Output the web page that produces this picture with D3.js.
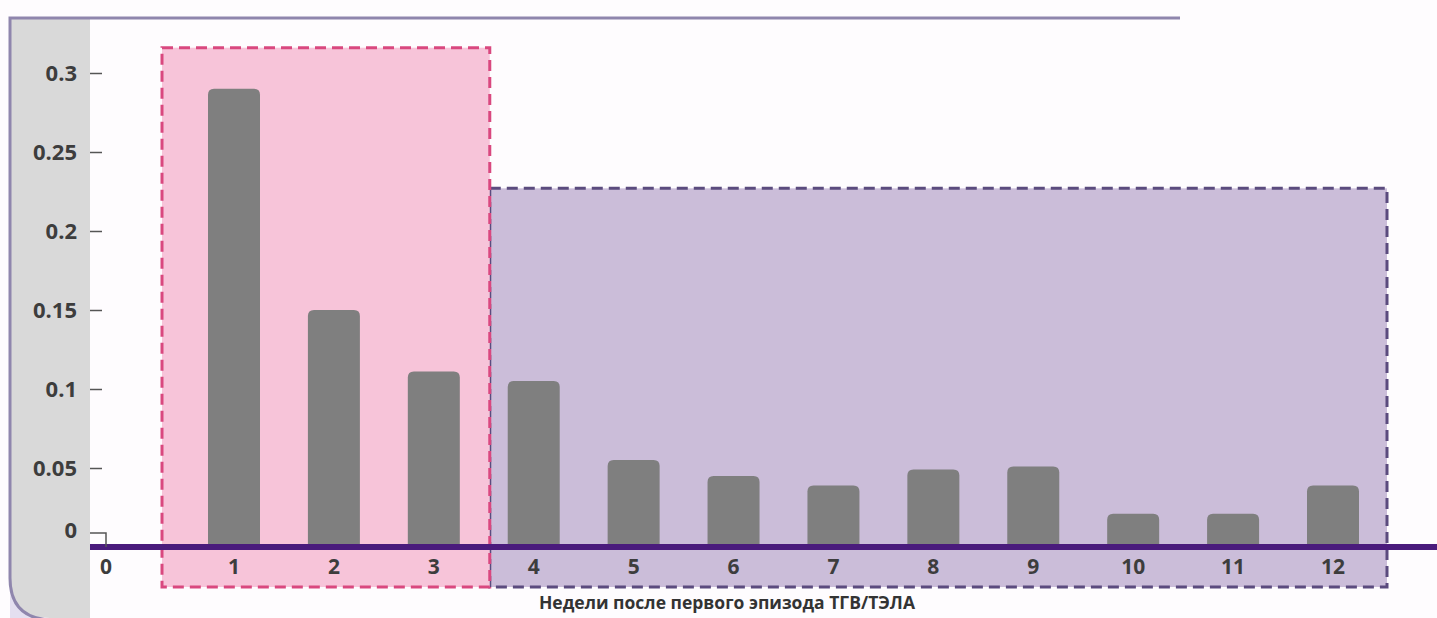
<!DOCTYPE html>
<html>
<head>
<meta charset="utf-8">
<script src="https://cdn.jsdelivr.net/npm/d3@7"></script>
<style>
  html, body { margin: 0; padding: 0; background: #ffffff; }
  svg { display: block; }
</style>
</head>
<body>
<svg id="chart" width="1437" height="618"></svg>
<script>
// Weekly values after the first VTE episode
const weeks = [1, 2, 3, 4, 5, 6, 7, 8, 9, 10, 11, 12];
const values = [0.29, 0.15, 0.111, 0.105, 0.055, 0.045, 0.039, 0.049, 0.051, 0.021, 0.021, 0.039];
const yTicks = [0, 0.05, 0.1, 0.15, 0.2, 0.25, 0.3];
const yTickLabels = ["0", "0.05", "0.1", "0.15", "0.2", "0.25", "0.3"];
const xTicks = [0, 1, 2, 3, 4, 5, 6, 7, 8, 9, 10, 11, 12];
const phaseStart = [1, 4];
const phaseEnd = [3, 12];
const axisTitle = "Недели после первого эпизода ТГВ/ТЭЛА";

const svg = d3.select("#chart");
const W = 1437, H = 618;
const font = "'Open Sans', 'DejaVu Sans', sans-serif";

const x = d3.scaleLinear().domain([1, 12]).range([234, 1333]);
const y = d3.scaleLinear().domain([0, 0.3]).range([547, 73]);
const originX = 106;

// Frame: grey side band, top rule, left edge with rounded corner
svg.append("rect").attr("x", 0).attr("y", 0).attr("width", W).attr("height", H).attr("fill", "#fefcfe");
svg.append("path")
  .attr("d", `M10,18 L90,18 L90,${H} L50,${H} Q10,${H} 10,578 Z`)
  .attr("fill", "#d9d9d9");
svg.append("path")
  .attr("d", `M0,${H} L50,${H} Q10,${H} 10,578 L10,${H} Z`)
  .attr("fill", "#e4dff0");
svg.append("path")
  .attr("d", `M1180,18 L10,18 L10,578 Q10,${H} 50,${H + 2}`)
  .attr("fill", "none").attr("stroke", "#8f86ad").attr("stroke-width", 3);

// Phase regions (weeks 1–3 and weeks 4–12)
const phaseFill = ["#f7c4d9", "#cbbdd9"];
const phaseStroke = ["#d9487f", "#5b4b7e"];
const boundary = (x(phaseEnd[0]) + x(phaseStart[1])) / 2 + 6;
const phaseLeft = [x(phaseStart[0]) - 72, boundary];
const phaseRight = [boundary, x(phaseEnd[1]) + 54];
const phaseTop = [y(0.316), y(0.227)];
const phaseBottom = 587;

[1, 0].forEach(i => {
  svg.append("rect")
    .attr("x", phaseLeft[i]).attr("y", phaseTop[i])
    .attr("width", phaseRight[i] - phaseLeft[i])
    .attr("height", phaseBottom - phaseTop[i])
    .attr("fill", phaseFill[i])
    .attr("stroke", phaseStroke[i])
    .attr("stroke-width", 3)
    .attr("stroke-dasharray", "11,6");
});

// Bars with rounded tops
const barW = 52, r = 6;
function barPath(cx, top, bottom) {
  const l = cx - barW / 2, rr = cx + barW / 2;
  return `M${l},${bottom} L${l},${top + r} Q${l},${top} ${l + r},${top} L${rr - r},${top} Q${rr},${top} ${rr},${top + r} L${rr},${bottom} Z`;
}
svg.append("g").selectAll("path")
  .data(weeks.map((w, i) => ({ w, v: values[i] })))
  .join("path")
  .attr("d", d => barPath(x(d.w), y(d.v), y(0)))
  .attr("fill", "#7f7f7f");

// Baseline
svg.append("line")
  .attr("x1", 90).attr("x2", W)
  .attr("y1", y(0)).attr("y2", y(0))
  .attr("stroke", "#4a1b7c").attr("stroke-width", 6);

// Y axis
const yAxis = d3.axisLeft(y)
  .tickValues(yTicks.slice(1))
  .tickFormat((d) => yTickLabels[yTicks.indexOf(d)])
  .tickSize(12)
  .tickPadding(13);
const gy = svg.append("g").attr("transform", `translate(102,0)`).call(yAxis);
gy.select(".domain").remove();
gy.selectAll(".tick line").attr("stroke", "#555").attr("stroke-width", 1.5);
gy.selectAll(".tick text")
  .attr("fill", "#3d3d3d").attr("font-family", font)
  .attr("font-size", 22).attr("font-weight", 700);

// Zero label with its bent leader to the baseline
const zeroY = y(0) - 17;
svg.append("path")
  .attr("d", `M90,${zeroY + 3} L${originX},${zeroY + 3} L${originX},${y(0)}`)
  .attr("fill", "none").attr("stroke", "#555").attr("stroke-width", 1.5);
svg.append("text")
  .attr("x", 77).attr("y", zeroY).attr("dy", "0.35em")
  .attr("text-anchor", "end")
  .attr("fill", "#3d3d3d").attr("font-family", font)
  .attr("font-size", 22).attr("font-weight", 700)
  .text(yTickLabels[0]);

// X tick labels
svg.append("g").selectAll("text")
  .data(xTicks)
  .join("text")
  .attr("x", d => d === 0 ? originX : x(d))
  .attr("y", 567).attr("dy", "0.35em")
  .attr("text-anchor", "middle")
  .attr("fill", "#3d3d3d").attr("font-family", font)
  .attr("font-size", 21).attr("font-weight", 700)
  .text(d => d);

// Axis title
svg.append("text")
  .attr("x", 727).attr("y", 603).attr("dy", "0.35em")
  .attr("text-anchor", "middle")
  .attr("fill", "#333").attr("font-family", font)
  .attr("font-size", 17.5).attr("font-weight", 700)
  .text(axisTitle);
</script>
</body>
</html>
